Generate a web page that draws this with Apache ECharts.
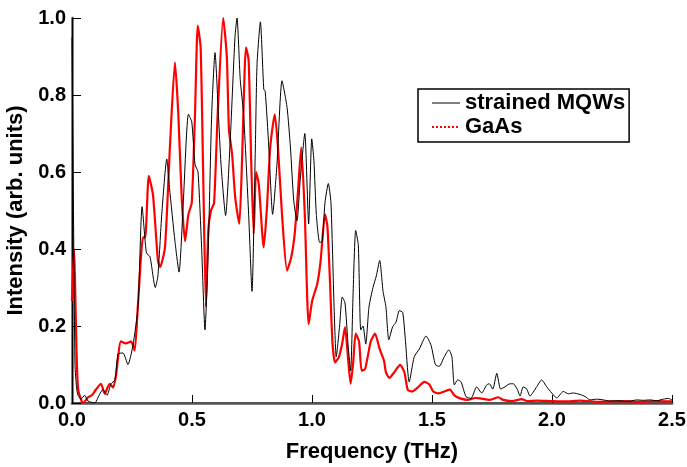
<!DOCTYPE html>
<html>
<head>
<meta charset="utf-8">
<script src="https://cdn.jsdelivr.net/npm/echarts@6/dist/echarts.min.js"></script>
<style>
html,body{margin:0;padding:0;background:#fff;}
#chart{width:687px;height:467px;}
</style>
</head>
<body>
<div id="chart"></div>
<script>
// Frequency (THz) and intensity (arb. units)
var mqwFreq = [0.000,0.006,0.0125,0.019,0.025,0.0375,0.053,0.067,0.095,0.1125,0.129,0.146,0.1625,0.179,0.192,0.2125,0.233,0.254,0.275,0.292,0.310,0.325,0.347,0.358,0.374,0.395,0.406,0.429,0.446,0.464,0.485,0.499,0.5125,0.525,0.540,0.554,0.568,0.582,0.596,0.610,0.621,0.640,0.658,0.679,0.6875,0.701,0.715,0.736,0.750,0.764,0.771,0.785,0.799,0.805,0.820,0.836,0.854,0.875,0.896,0.910,0.924,0.9375,0.951,0.970,0.986,0.999,1.008,1.018,1.032,1.043,1.054,1.068,1.079,1.092,1.101,1.115,1.126,1.1375,1.151,1.161,1.171,1.182,1.193,1.203,1.2125,1.224,1.2375,1.254,1.268,1.282,1.296,1.308,1.320,1.336,1.350,1.364,1.378,1.389,1.405,1.426,1.447,1.475,1.496,1.514,1.530,1.551,1.570,1.583,1.593,1.607,1.621,1.642,1.6625,1.686,1.707,1.728,1.739,1.753,1.770,1.786,1.804,1.825,1.839,1.855,1.867,1.880,1.895,1.908,1.936,1.957,1.978,1.999,2.020,2.047,2.068,2.089,2.117,2.1375,2.158,2.186,2.214,2.242,2.270,2.297,2.325,2.353,2.380,2.408,2.436,2.464,2.485,2.500];
var mqwIntensity = [0.95,0.50,0.10,0.04,0.02,0.01,0.02,0.005,0.0,0.02,0.035,0.02,0.05,0.06,0.127,0.13,0.10,0.15,0.25,0.51,0.39,0.38,0.30,0.33,0.49,0.634,0.56,0.42,0.34,0.525,0.75,0.73,0.62,0.60,0.405,0.19,0.405,0.75,0.91,0.75,0.62,0.487,0.665,0.95,1.0,0.84,0.75,0.49,0.29,0.665,0.88,0.99,0.815,0.81,0.665,0.49,0.62,0.837,0.768,0.665,0.525,0.473,0.58,0.70,0.465,0.686,0.63,0.49,0.417,0.42,0.52,0.57,0.52,0.25,0.12,0.20,0.275,0.26,0.145,0.084,0.28,0.448,0.41,0.19,0.20,0.153,0.25,0.30,0.33,0.37,0.29,0.25,0.164,0.198,0.21,0.24,0.235,0.164,0.055,0.12,0.14,0.174,0.15,0.10,0.095,0.12,0.138,0.12,0.047,0.06,0.055,0.016,0.012,0.042,0.026,0.047,0.05,0.036,0.077,0.036,0.042,0.05,0.05,0.036,0.018,0.042,0.036,0.018,0.042,0.06,0.042,0.026,0.013,0.03,0.024,0.026,0.022,0.017,0.008,0.01,0.008,0.005,0.006,0.005,0.005,0.008,0.007,0.008,0.006,0.01,0.012,0.008];

var gaasFreq = [0.000,0.008,0.020,0.026,0.040,0.046,0.067,0.083,0.100,0.121,0.136,0.157,0.171,0.183,0.204,0.225,0.246,0.261,0.275,0.296,0.305,0.320,0.3375,0.358,0.367,0.3875,0.408,0.429,0.443,0.457,0.471,0.485,0.499,0.5125,0.524,0.536,0.547,0.558,0.568,0.579,0.592,0.607,0.630,0.645,0.654,0.667,0.680,0.697,0.708,0.725,0.736,0.747,0.757,0.767,0.778,0.799,0.8125,0.826,0.845,0.858,0.875,0.896,0.914,0.928,0.9417,0.955,0.970,0.986,1.001,1.022,1.036,1.054,1.064,1.074,1.085,1.096,1.1125,1.126,1.1375,1.151,1.161,1.171,1.182,1.196,1.207,1.221,1.232,1.245,1.2625,1.282,1.300,1.308,1.322,1.343,1.367,1.385,1.399,1.417,1.440,1.468,1.489,1.505,1.528,1.551,1.575,1.593,1.617,1.649,1.680,1.700,1.742,1.776,1.797,1.833,1.874,1.896,1.9375,1.992,2.054,2.117,2.200,2.283,2.367,2.429,2.500];
var gaasIntensity = [0.265,0.40,0.11,0.034,0.005,0.0,0.015,0.02,0.035,0.05,0.024,0.05,0.04,0.07,0.16,0.155,0.16,0.136,0.257,0.43,0.43,0.59,0.54,0.37,0.353,0.405,0.665,0.885,0.75,0.535,0.42,0.49,0.52,0.75,0.98,0.924,0.58,0.25,0.45,0.50,0.52,0.75,1.0,0.90,0.71,0.647,0.534,0.465,0.62,0.924,0.89,0.62,0.44,0.60,0.57,0.404,0.51,0.665,0.75,0.665,0.49,0.344,0.38,0.44,0.55,0.664,0.49,0.205,0.266,0.31,0.37,0.49,0.46,0.33,0.16,0.105,0.12,0.155,0.197,0.11,0.05,0.10,0.18,0.16,0.084,0.088,0.12,0.16,0.18,0.14,0.11,0.08,0.065,0.08,0.099,0.08,0.034,0.03,0.04,0.055,0.048,0.03,0.025,0.03,0.035,0.02,0.012,0.008,0.013,0.012,0.008,0.015,0.008,0.005,0.01,0.005,0.006,0.005,0.004,0.006,0.003,0.005,0.003,0.005,0.004];

var seriesNames = ['strained MQWs', 'GaAs'];

function pairs(xs, ys) { return xs.map(function (x, i) { return [x, ys[i]]; }); }

var FONT = '"Liberation Sans", Arial, sans-serif';
var chart = echarts.init(document.getElementById('chart'), null, {renderer: 'canvas'});
chart.setOption({
  animation: false,
  backgroundColor: '#fff',
  grid: {left: 72, right: 15, top: 18, bottom: 64, show: false, containLabel: false, outerBoundsMode: 'none'},
  legend: {
    orient: 'vertical', left: 418, top: 89,
    backgroundColor: '#fff', borderColor: '#000', borderWidth: 1.5, borderRadius: 0,
    padding: [3, 4, 4, 13], itemGap: 2, itemWidth: 28, itemHeight: 12,
    itemStyle: {color: 'rgba(0,0,0,0)', borderWidth: 0, opacity: 0},
    textStyle: {fontFamily: FONT, fontSize: 22, fontWeight: 'bold', color: '#000'},
    data: [
      {name: seriesNames[0], lineStyle: {width: 1, color: '#000'}},
      {name: seriesNames[1], lineStyle: {type: 'dotted', width: 2, color: '#ff0000'}}
    ]
  },
  xAxis: [{
    type: 'value', min: 0, max: 2.5, interval: 0.5, position: 'bottom',
    name: 'Frequency (THz)', nameLocation: 'middle', nameGap: 38,
    nameTextStyle: {fontFamily: FONT, fontSize: 22, fontWeight: 'bold', color: '#000'},
    axisLine: {show: true, onZero: false, lineStyle: {color: '#808080', width: 3}},
    axisTick: {show: true, inside: true, length: 8, lineStyle: {color: '#000', width: 1}},
    axisLabel: {margin: 7, fontFamily: FONT, fontSize: 20, fontWeight: 'bold', color: '#000',
      formatter: function (v) { return v.toFixed(1); }},
    splitLine: {show: false}
  }, {
    type: 'value', min: 0, max: 2.5, position: 'top',
    axisLine: {show: true, lineStyle: {color: '#444', width: 1.5}},
    axisTick: {show: false}, axisLabel: {show: false}, splitLine: {show: false}
  }],
  yAxis: [{
    type: 'value', min: 0, max: 1, interval: 0.2, position: 'left',
    name: 'Intensity (arb. units)', nameLocation: 'middle', nameGap: 37,
    nameTextStyle: {fontFamily: FONT, fontSize: 22, fontWeight: 'bold', color: '#000'},
    axisLine: {show: true, onZero: false, lineStyle: {color: '#808080', width: 3}},
    axisTick: {show: true, inside: true, length: 9, lineStyle: {color: '#000', width: 1}},
    axisLabel: {margin: 6, fontFamily: FONT, fontSize: 20, fontWeight: 'bold', color: '#000',
      formatter: function (v) { return v.toFixed(1); }},
    splitLine: {show: false}
  }, {
    type: 'value', min: 0, max: 1, position: 'right',
    axisLine: {show: true, lineStyle: {color: '#000', width: 1}},
    axisTick: {show: false}, axisLabel: {show: false}, splitLine: {show: false}
  }],
  series: [
    {name: seriesNames[1], type: 'line', data: pairs(gaasFreq, gaasIntensity),
      symbol: 'none', smooth: 0.2, z: 2, lineStyle: {color: '#ff0000', width: 2.2}, itemStyle: {color: '#ff0000'}},
    {name: seriesNames[0], type: 'line', data: pairs(mqwFreq, mqwIntensity),
      symbol: 'none', smooth: 0.2, z: 3, lineStyle: {color: '#000', width: 1}, itemStyle: {color: '#000'}}
  ]
});
</script>
</body>
</html>
